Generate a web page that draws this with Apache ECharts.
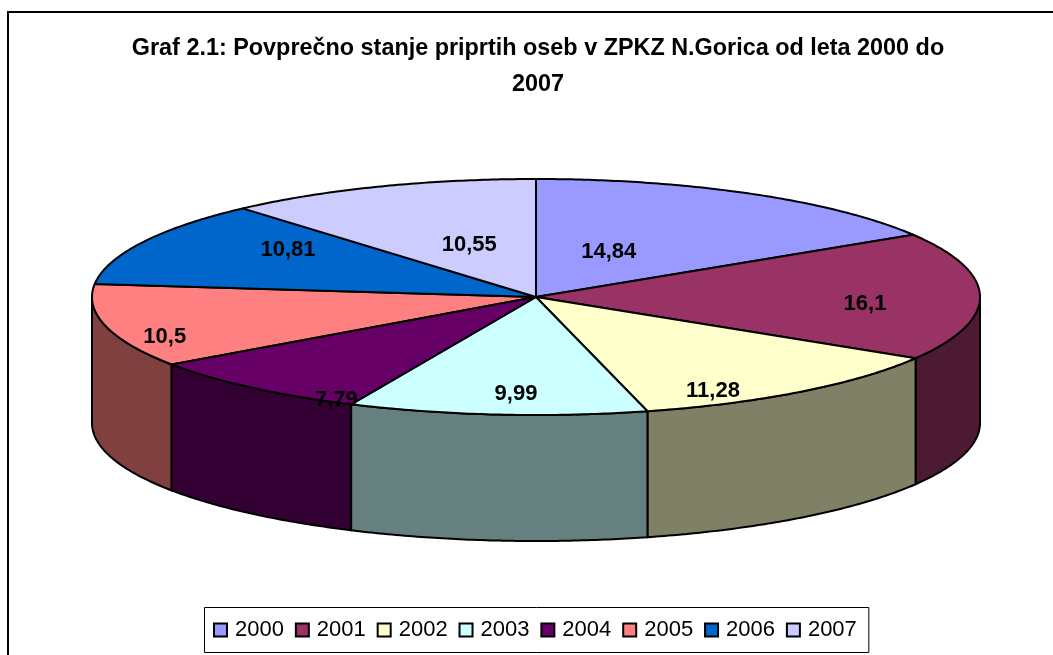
<!DOCTYPE html>
<html>
<head>
<meta charset="utf-8">
<style>html,body{margin:0;padding:0;background:#fff}#c{width:1053px;height:655px}</style>
<script src="https://cdn.jsdelivr.net/npm/echarts@6/dist/echarts.min.js"></script>
</head>
<body>
<div id="c"></div>
<script>
var years = ['2000','2001','2002','2003','2004','2005','2006','2007'];
var values = [14.84,16.1,11.28,9.99,7.79,10.5,10.81,10.55];
var valueLabels = ['14,84','16,1','11,28','9,99','7,79','10,5','10,81','10,55'];
var topColors = ['#9999FF','#993366','#FFFFCC','#CCFFFF','#660066','#FF8080','#0066CC','#CCCCFF'];
var sideColors = ['#4D4D80','#4D1A33','#808066','#668080','#330033','#804040','#003366','#666680'];
var titleText = 'Graf 2.1: Povprečno stanje priprtih oseb v ZPKZ N.Gorica od leta 2000 do\n2007';

// layout of the tilted disc
var CX = 536, CY = 297, RX = 444, RY = 118, DEPTH = 126;
// label offsets from the rim point at each slice's mid-angle, px
var labelShift = [[-143,58],[-115,8],[-88,-1],[19,-21],[85,12],[59,11],[146,7],[90,58]];

var total = values.reduce(function (a, b) { return a + b; }, 0);
function rim(theta) {
  return [CX + RX * Math.sin(theta), CY - RY * Math.cos(theta)];
}
function arcPoints(a0, a1, dy) {
  var n = Math.max(2, Math.ceil((a1 - a0) / 0.01)), pts = [];
  for (var i = 0; i <= n; i++) {
    var p = rim(a0 + (a1 - a0) * i / n);
    pts.push([p[0], p[1] + (dy || 0)]);
  }
  return pts;
}
function sliceRenderer(idx) {
  return function (params, api) {
    var before = 0;
    for (var i = 0; i < idx; i++) before += values[i];
    var a0 = before / total * Math.PI * 2;
    var a1 = (before + api.value(0)) / total * Math.PI * 2;
    var children = [];
    // visible wall: front half of the rim
    var w0 = Math.max(a0, Math.PI / 2), w1 = Math.min(a1, Math.PI * 1.5);
    if (w1 > w0) {
      var topEdge = arcPoints(w0, w1, 0);
      var botEdge = arcPoints(w0, w1, DEPTH).reverse();
      children.push({
        type: 'polygon',
        shape: { points: topEdge.concat(botEdge) },
        style: { fill: sideColors[idx], stroke: '#000', lineWidth: 2, lineJoin: 'round' }
      });
    }
    children.push({
      type: 'polygon',
      shape: { points: [[CX, CY]].concat(arcPoints(a0, a1, 0)) },
      style: { fill: topColors[idx], stroke: '#000', lineWidth: 2, lineJoin: 'round' }
    });
    var mid = rim((a0 + a1) / 2);
    children.push({
      type: 'text',
      z2: 10,
      style: {
        x: mid[0] + labelShift[idx][0],
        y: mid[1] + labelShift[idx][1],
        text: valueLabels[idx],
        fill: '#000',
        font: 'bold 22px "Liberation Sans", Arial, sans-serif',
        align: 'center',
        verticalAlign: 'middle'
      }
    });
    return { type: 'group', children: children };
  };
}

var series = years.map(function (y, i) {
  return {
    type: 'custom',
    name: y,
    coordinateSystem: 'none',
    silent: true,
    animation: false,
    itemStyle: { color: topColors[i] },
    data: [[values[i]]],
    renderItem: sliceRenderer(i),
    z: 2 + (i === 4 ? 1 : 0)
  };
});

var chart = echarts.init(document.getElementById('c'), null, { renderer: 'canvas' });
chart.setOption({
  animation: false,
  backgroundColor: '#fff',
  title: {
    text: titleText,
    left: 533,
    top: 26,
    textAlign: 'center',
    textStyle: { fontFamily: '"Liberation Sans", Arial, sans-serif', fontSize: 23.4, fontWeight: 'bold', color: '#000', lineHeight: 36 }
  },
  legend: {
    data: years,
    left: 204.5,
    top: 607.5,
    orient: 'horizontal',
    width: 700,
    itemWidth: 13,
    itemHeight: 13,
    itemGap: 10.9,
    padding: [11.5, 12, 11.5, 8.5],
    borderColor: '#000',
    borderWidth: 1,
    backgroundColor: '#fff',
    icon: 'rect',
    selectedMode: false,
    itemStyle: { borderColor: '#000', borderWidth: 2 },
    textStyle: { fontFamily: '"Liberation Sans", Arial, sans-serif', fontSize: 22, color: '#000', padding: [0, 0, 0, 3] }
  },
  graphic: [{
    type: 'polyline',
    silent: true,
    shape: { points: [[8, 655], [8, 12], [1053, 12]] },
    style: { stroke: '#000', lineWidth: 2, fill: null }
  }],
  series: series
});
</script>
</body>
</html>
